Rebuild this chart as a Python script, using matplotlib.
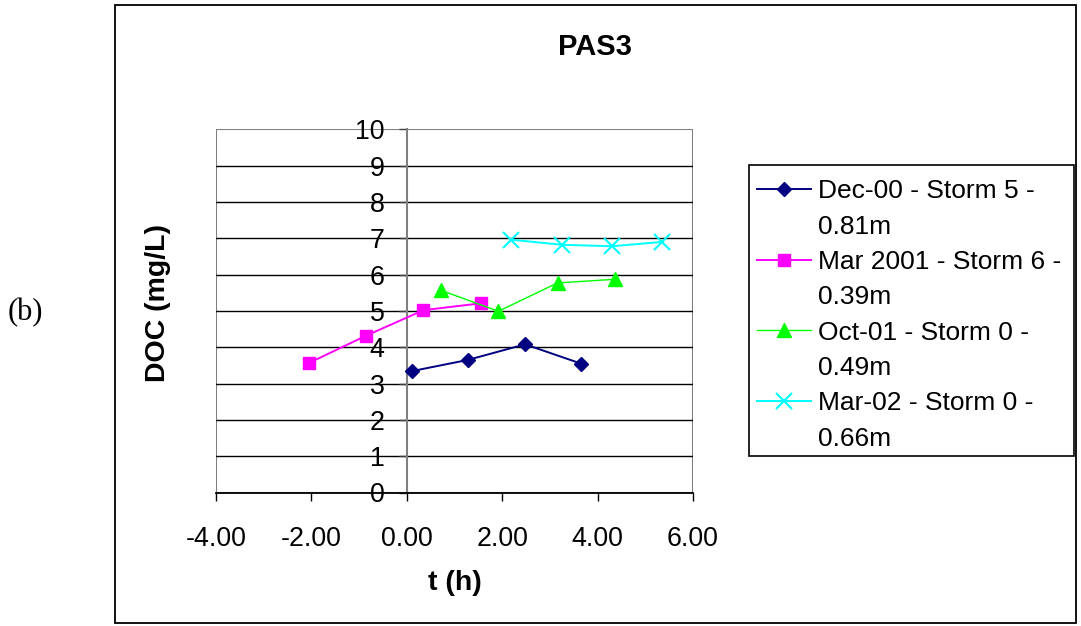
import matplotlib
matplotlib.use("Agg")
import matplotlib.pyplot as plt
from matplotlib.patches import Rectangle
from matplotlib.lines import Line2D
from matplotlib.ticker import FixedLocator, FuncFormatter

plt.rcParams['font.family'] = ['Liberation Sans', 'DejaVu Sans']

# ---- data ----
dec00_t = [0.10, 1.28, 2.48, 3.65]
dec00_doc = [3.34, 3.65, 4.08, 3.55]

mar01_t = [-2.06, -0.85, 0.35, 1.56]
mar01_doc = [3.56, 4.32, 5.02, 5.21]

oct01_t = [0.71, 1.92, 3.16, 4.36]
oct01_doc = [5.57, 4.99, 5.77, 5.87]

mar02_t = [2.19, 3.26, 4.30, 5.36]
mar02_doc = [6.96, 6.82, 6.78, 6.90]

labels_line1 = ["Dec-00 - Storm 5 -", "Mar 2001 - Storm 6 -",
                "Oct-01 - Storm 0 -", "Mar-02 - Storm 0 -"]
labels_line2 = ["0.81m", "0.39m", "0.49m", "0.66m"]

x_ticks = [-4, -2, 0, 2, 4, 6]
y_ticks = list(range(0, 11))

W, H = 1081, 626
fig = plt.figure(figsize=(W / 100, H / 100), dpi=100)

# outer chart border
fig.patches.append(Rectangle((115 / W, 1 - 623 / H), (1076 - 115) / W, (623 - 5) / H,
                             transform=fig.transFigure, fill=False,
                             edgecolor='black', linewidth=1.3))

ax = fig.add_axes([216 / W, 1 - 492.5 / H, (693 - 216) / W, (492.5 - 129.3) / H])
ax.set_xlim(-4, 6)
ax.set_ylim(0, 10)

# plot-area border (gray)
ax.add_patch(Rectangle((0, 0), 1, 1, transform=ax.transAxes, fill=False,
                       edgecolor='#808080', linewidth=1.5, zorder=1))

# gridlines
for yv in y_ticks[1:-1]:
    ax.axhline(yv, color='black', linewidth=1.0, zorder=1)

for s in ['top', 'right']:
    ax.spines[s].set_visible(False)
ax.spines['left'].set_position(('data', 0))
ax.spines['left'].set_color('#808080')
ax.spines['left'].set_linewidth(1.5)
ax.spines['bottom'].set_color('black')
ax.spines['bottom'].set_linewidth(1.3)

ax.xaxis.set_major_locator(FixedLocator(x_ticks))
ax.xaxis.set_major_formatter(FuncFormatter(lambda v, p: f"{v:.2f}"))
ax.yaxis.set_major_locator(FixedLocator(y_ticks))
ax.yaxis.set_major_formatter(FuncFormatter(lambda v, p: f"{int(v)}"))

ax.tick_params(axis='x', direction='out', length=6, width=1, color='black',
               pad=18, labelsize=19.3)
ax.tick_params(axis='y', direction='out', length=6, width=1, color='#404040',
               pad=10, labelsize=19.3)

ax.plot(dec00_t, dec00_doc, color='#000080', marker='D', markersize=6.8,
        linewidth=1.4, zorder=3)
ax.plot(mar01_t, mar01_doc, color='#FF00FF', marker='s', markersize=8.5,
        linewidth=1.4, zorder=3)
ax.plot(oct01_t, oct01_doc, color='#00FF00', marker='^', markersize=10,
        linewidth=1.0, zorder=3)
ax.plot(mar02_t, mar02_doc, color='#00FFFF', marker='x', markersize=12,
        markeredgewidth=1.5, linewidth=1.4, zorder=3)

# legend frame
fig.patches.append(Rectangle((749 / W, 1 - 456 / H), (1074 - 749) / W, (456 - 165) / H,
                             transform=fig.transFigure, fill=False,
                             edgecolor='black', linewidth=1.2))

# legend: each series label takes two rows
series_lines = ax.get_lines()[-4:]
blank = Line2D([], [], linestyle='none', marker=None)
handles, labels = [], []
for ln, l1, l2 in zip(series_lines, labels_line1, labels_line2):
    handles += [ln, blank]
    labels += [l1, l2]
leg = fig.legend(handles, labels, loc='upper left',
                 bbox_to_anchor=(748 / W, 1 - 170 / H),
                 fontsize=19, frameon=False,
                 handlelength=2.05, handletextpad=0.27, labelspacing=0.43,
                 borderpad=0.35, borderaxespad=0)

# titles and labels
fig.text(595 / W, 1 - 47 / H, "PAS3", ha='center', va='center',
         fontsize=21, fontweight='bold')
fig.text(158 / W, 1 - 303 / H, "DOC (mg/L)", ha='center', va='center',
         rotation=90, fontsize=20.5, fontweight='bold')
fig.text(455 / W, 1 - 583 / H, "t (h)", ha='center', va='center',
         fontsize=20.5, fontweight='bold')
fig.text(25 / W, 1 - 313 / H, "(b)", ha='center', va='center',
         fontsize=22, family=['Liberation Serif', 'DejaVu Serif'])

fig.savefig("out.png", dpi=100)
